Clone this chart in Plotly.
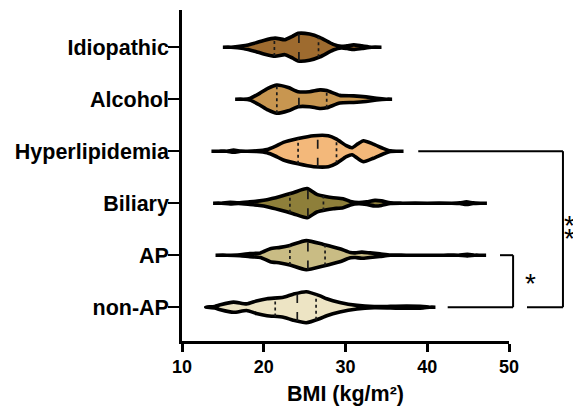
import numpy as np
import plotly.graph_objects as go

# ---------------- data ----------------
categories = ["non-AP", "AP", "Biliary", "Hyperlipidemia", "Alcohol", "Idiopathic"]

# density profiles: BMI positions and relative half-widths of each violin
idio_bmi = [15.0, 16.0, 17.5, 19.0, 20.0, 21.4, 22.6, 23.5, 24.2, 25.6, 26.9, 28.5, 29.5, 30.2, 31.0, 32.0, 33.2, 34.4]
idio_den = [0.5, 1.2, 2.5, 5.5, 8.0, 10.3, 8.7, 12.0, 15.0, 14.3, 10.8, 4.0, 2.0, 2.6, 3.5, 2.5, 1.2, 0.5]

alco_bmi = [16.5, 17.5, 18.3, 19.5, 20.5, 21.6, 23.0, 24.2, 25.6, 26.9, 27.7, 29.3, 31.0, 32.5, 33.8, 35.0, 35.7]
alco_den = [0.5, 1.0, 2.0, 7.0, 12.0, 15.3, 12.8, 8.7, 8.7, 10.5, 9.8, 5.0, 4.5, 3.5, 2.0, 1.0, 0.5]

hyper_bmi = [13.6, 14.5, 15.5, 16.3, 17.2, 18.0, 19.1, 20.4, 21.4, 22.4, 24.2, 26.1, 27.9, 28.9, 30.1, 30.8, 31.5, 32.2, 33.4, 34.6, 35.5, 36.3, 37.1]
hyper_den = [0.5, 0.8, 1.2, 2.3, 1.3, 1.2, 1.5, 2.8, 6.0, 10.0, 13.8, 16.7, 16.7, 13.3, 6.7, 4.7, 8.5, 11.7, 8.3, 4.0, 1.5, 0.8, 0.5]

bili_bmi = [13.8, 14.8, 15.9, 16.9, 18.3, 19.5, 20.4, 22.0, 23.6, 25.3, 26.5, 27.7, 28.5, 29.7, 30.6, 31.6, 32.6, 33.6, 34.4, 35.5, 37.0, 40.0, 43.0, 44.0, 44.8, 45.6, 46.5, 47.3]
bili_den = [0.5, 1.2, 2.0, 1.5, 2.5, 3.5, 4.7, 8.0, 11.7, 15.8, 10.0, 7.7, 6.7, 5.7, 3.0, 1.8, 2.5, 4.0, 3.5, 1.5, 0.7, 0.5, 0.6, 1.5, 2.5, 1.5, 0.7, 0.5]

ap_bmi = [14.1, 15.5, 17.1, 18.3, 19.6, 20.8, 22.0, 23.2, 25.2, 27.3, 29.3, 30.6, 31.2, 32.0, 33.0, 34.2, 35.5, 38.0, 42.0, 43.8, 44.9, 45.8, 46.5, 47.2]
ap_den = [0.5, 1.0, 1.7, 2.8, 3.5, 7.7, 9.0, 11.0, 15.8, 12.0, 7.7, 3.8, 3.5, 4.3, 3.5, 2.5, 1.3, 0.6, 0.5, 1.2, 2.0, 1.2, 0.7, 0.5]

nonap_bmi = [12.9, 14.0, 14.7, 16.3, 17.9, 19.1, 20.4, 22.4, 23.6, 25.2, 26.9, 27.7, 29.3, 31.4, 33.5, 35.5, 37.5, 39.5, 40.3, 41.0]
nonap_den = [0.5, 2.0, 3.7, 6.3, 4.5, 7.5, 9.7, 11.2, 14.2, 16.7, 12.5, 9.7, 6.0, 3.0, 1.8, 2.0, 2.3, 1.9, 1.0, 0.5]

# quartiles (Q1, median, Q3) in BMI
q1 = [21.4, 23.2, 23.2, 24.2, 21.6, 21.3]
median = [24.1, 25.4, 25.4, 26.6, 24.3, 24.3]
q3 = [26.4, 27.5, 27.3, 28.9, 27.7, 26.7]

colors = ["#EDE4C4", "#C9BC84", "#8E7F3A", "#F3B87A", "#C89650", "#9E6B2F"]

profiles = [
    (nonap_bmi, nonap_den),
    (ap_bmi, ap_den),
    (bili_bmi, bili_den),
    (hyper_bmi, hyper_den),
    (alco_bmi, alco_den),
    (idio_bmi, idio_den),
]

# ---------------- figure ----------------
PX_PER_CAT = 52.0  # pixels per category step (for converting densities)
fig = go.Figure()

for i, ((bmi, den), col) in enumerate(zip(profiles, colors)):
    bmi = np.array(bmi, float)
    hw = np.maximum(np.array(den, float) - 1.2, 0.0) / PX_PER_CAT
    xs = np.concatenate([bmi, bmi[::-1]])
    ys = np.concatenate([i + hw, (i - hw)[::-1]])
    fig.add_trace(go.Scatter(
        x=xs, y=ys, mode="lines", fill="toself", fillcolor=col,
        line=dict(color="black", width=3.6, shape="spline", smoothing=0.6),
        hoverinfo="skip", showlegend=False))
    # quartile lines
    for q, dash in ((q1[i], "dot"), (median[i], "dash"), (q3[i], "dot")):
        h = np.interp(q, bmi, hw)
        fig.add_trace(go.Scatter(
            x=[q, q], y=[i - h, i + h], mode="lines",
            line=dict(color="#1a1a1a", width=1.7, dash=dash),
            hoverinfo="skip", showlegend=False))

# significance brackets (x in BMI-equivalent units, beyond the axis -> paper coords)
def px(v):
    return (v - 10.0) / 40.0

brackets = [
    # (y_top_cat, y_bot_cat, x_top_start, x_bot_start, x_vertical)
    (3, 0, 38.9, 52.2, 56.6),
    (1, 0, 48.9, 42.5, 50.5),
]
for yt, yb, xts, xbs, xv in brackets:
    for (x0, y0, x1, y1) in ((xts, yt, xv, yt), (xv, yt, xv, yb), (xbs, yb, xv, yb)):
        fig.add_shape(type="line", xref="paper", yref="y",
                      x0=px(x0), y0=y0, x1=px(x1), y1=y1,
                      line=dict(color="black", width=2))

star_font = dict(size=28, color="black", family="Liberation Sans")
fig.add_annotation(text="*", xref="paper", yref="y", x=px(53.5), y=0.45,
                   showarrow=False, font=star_font)
# "**" drawn as two stacked stars beside the long bracket
for ys in (1.58, 1.33):
    fig.add_annotation(text="*", xref="paper", yref="y", x=px(58.3), y=ys,
                       showarrow=False, font=star_font)

# the page body adds an 8 px offset, so the figure is sized to the remaining window
fig.update_layout(
    width=573, height=398,
    margin=dict(l=174, r=72, t=2, b=65),
    plot_bgcolor="white", paper_bgcolor="white",
    font=dict(family="Liberation Sans, Arial, sans-serif", color="black"),
    xaxis=dict(range=[10, 50], tickvals=[10, 20, 30, 40, 50], automargin=False,
               showline=True, linecolor="black", linewidth=2.5,
               ticks="outside", ticklen=8, tickwidth=2.5, tickcolor="black",
               showgrid=False, zeroline=False,
               tickfont=dict(size=18, weight="bold"),
               title=dict(text="BMI (kg/m²)", font=dict(size=21.5, weight="bold"), standoff=11)),
    yaxis=dict(range=[-0.65, 5.715], tickvals=list(range(len(categories))), ticktext=categories,
               automargin=False,
               showline=True, linecolor="black", linewidth=2.5,
               ticks="outside", ticklen=11, tickwidth=2, tickcolor="black",
               ticklabelstandoff=-5,
               showgrid=False, zeroline=False,
               tickfont=dict(size=21.5, weight="bold")),
)

fig.write_html("out.html")
